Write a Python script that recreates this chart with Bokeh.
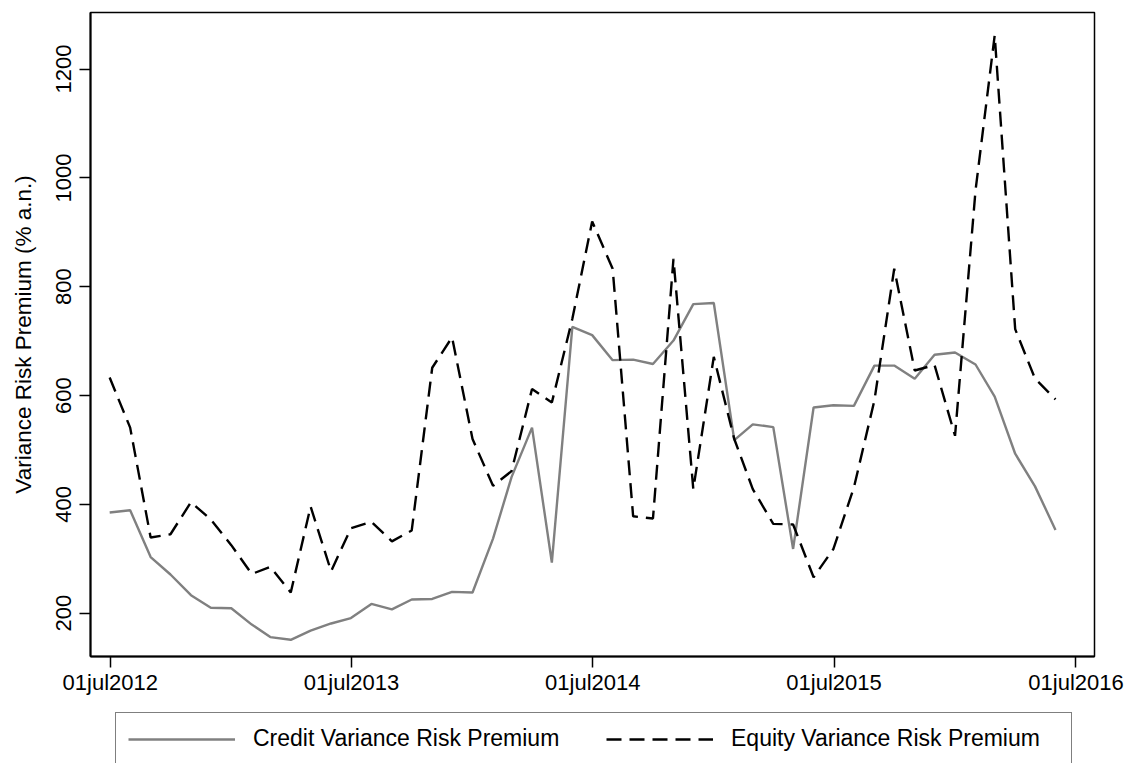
import pandas as pd
from bokeh.plotting import figure
from bokeh.layouts import column
from bokeh.models import Range1d, FixedTicker, CustomJSTickFormatter, Legend, LegendItem
from bokeh.embed import file_html
from bokeh.resources import INLINE

# ---- data (monthly, end of month, Jun 2012 .. May 2016) ----
months = pd.period_range("2012-06", "2016-05", freq="M")
dates = months.to_timestamp(how="end").normalize()

credit_vrp = [385, 389, 303, 271, 233, 210, 209, 179, 156, 151, 168, 181,
              191, 217, 207, 225, 226, 239, 238, 337, 450, 541, 293, 726,
              711, 665, 666, 658, 701, 768, 770, 518, 547, 542, 318, 578,
              582, 581, 655, 655, 631, 675, 679, 657, 598, 493, 433, 353]

equity_vrp = [633, 541, 339, 345, 404, 372, 325, 272, 285, 238, 396, 277,
              356, 368, 332, 352, 651, 707, 520, 434, 461, 612, 587, 741,
              920, 833, 378, 374, 851, 428, 671, 520, 428, 364, 363, 266,
              318, 431, 591, 833, 646, 656, 526, 977, 1262, 722, 631, 593]

series_labels = ["Credit Variance Risk Premium", "Equity Variance Risk Premium"]
tick_years = [2012, 2013, 2014, 2015, 2016]
y_ticks = [200, 400, 600, 800, 1000, 1200]

FONT = "Liberation Sans"
CREDIT_STYLE = dict(line_color="#808080", line_width=2.4)
EQUITY_STYLE = dict(line_color="black", line_width=2.4, line_dash="15 8")

p = figure(width=1129, height=700, x_axis_type="datetime",
           output_backend="svg", toolbar_location=None,
           x_range=Range1d(pd.Timestamp("2012-06-01"), pd.Timestamp("2016-07-29")),
           y_range=Range1d(120.3, 1304),
           min_border_left=90, min_border_right=35,
           min_border_top=12, min_border_bottom=44)

p.background_fill_color = "white"
p.border_fill_color = "white"
p.xgrid.visible = False
p.ygrid.visible = False
p.outline_line_color = "black"
p.outline_line_width = 1.5
p.outline_line_alpha = 1

p.line(dates, credit_vrp, **CREDIT_STYLE)
p.line(dates, equity_vrp, **EQUITY_STYLE)

# x axis
p.xaxis.ticker = FixedTicker(ticks=[pd.Timestamp(f"{y}-07-01").value / 1e6 for y in tick_years])
p.xaxis.formatter = CustomJSTickFormatter(code="""
const m=["jan","feb","mar","apr","may","jun","jul","aug","sep","oct","nov","dec"];
const d=new Date(tick);
const dd=String(d.getUTCDate()).padStart(2,"0");
return dd+m[d.getUTCMonth()]+d.getUTCFullYear();
""")
p.xaxis.minor_tick_line_color = None

# y axis
p.yaxis.ticker = FixedTicker(ticks=y_ticks)
p.yaxis.minor_tick_line_color = None
p.yaxis.major_label_orientation = "vertical"
p.yaxis.axis_label = "Variance Risk Premium (% a.n.)"

for ax in (p.xaxis[0], p.yaxis[0]):
    ax.axis_line_color = "black"
    ax.axis_line_width = 2
    ax.major_tick_line_color = "black"
    ax.major_tick_line_width = 1.5
    ax.major_tick_out = 11
    ax.major_tick_in = 0
    ax.major_label_text_font = FONT
    ax.major_label_text_font_size = "22px"
    ax.major_label_text_color = "black"
    ax.axis_label_text_font = FONT
    ax.axis_label_text_font_size = "22.5px"
    ax.axis_label_text_font_style = "normal"
    ax.axis_label_text_color = "black"
p.xaxis.major_label_standoff = 2
p.yaxis.major_label_standoff = 8
p.yaxis.axis_label_standoff = 18

# ---- legend strip below the chart (frame aligned with the chart's frame) ----
lg = figure(width=1129, height=63, output_backend="svg", toolbar_location=None,
            x_range=Range1d(0, 1), y_range=Range1d(0, 1),
            x_axis_location=None, y_axis_location=None,
            min_border_left=90, min_border_right=35, min_border_top=0, min_border_bottom=0)
lg.outline_line_color = None
lg.background_fill_color = "white"
lg.border_fill_color = "white"
lg.xgrid.visible = False
lg.ygrid.visible = False
# key renderers: points lie outside the strip's ranges, only their legend keys show
k1 = lg.line([-2, -1], [-2, -1], **CREDIT_STYLE)
k2 = lg.line([-2, -1], [-2, -1], **EQUITY_STYLE)

legend = Legend(items=[LegendItem(label=series_labels[0], renderers=[k1]),
                       LegendItem(label=series_labels[1], renderers=[k2])],
                location=(25, -2), orientation="horizontal",
                glyph_width=107, glyph_height=20, label_height=26,
                label_standoff=18, label_width=328, spacing=25, padding=12,
                border_line_color="black", border_line_width=1.5,
                background_fill_color="white", background_fill_alpha=1,
                label_text_font=FONT, label_text_font_size="23px",
                label_text_color="black")
lg.add_layout(legend)

layout = column(p, lg, spacing=0)
open("out.html", "w").write(file_html(layout, INLINE))
